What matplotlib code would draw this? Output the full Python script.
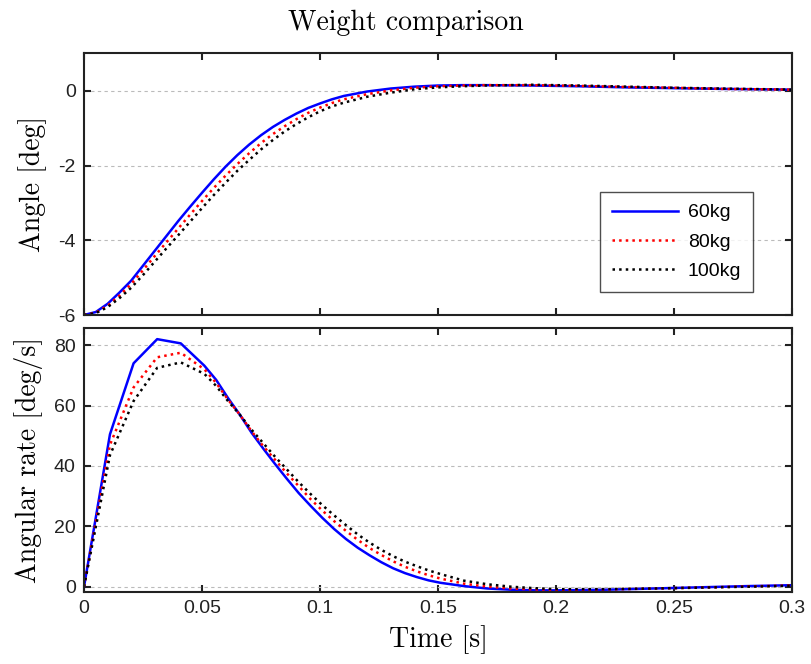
import matplotlib
matplotlib.use("Agg")
import matplotlib.pyplot as plt

# ---- data ----
labels = ["60kg", "80kg", "100kg"]

t_angle = [0, 0.005, 0.01, 0.015, 0.02, 0.025, 0.03, 0.035, 0.04, 0.045, 0.05,
           0.055, 0.06, 0.065, 0.07, 0.075, 0.08, 0.085, 0.09, 0.095, 0.10,
           0.105, 0.11, 0.12, 0.13, 0.14, 0.15, 0.16, 0.17, 0.19, 0.21, 0.23,
           0.25, 0.27, 0.30]
angle_60 = [-6, -5.92, -5.7, -5.4, -5.08, -4.68, -4.28, -3.88, -3.48, -3.1, -2.73,
            -2.37, -2.03, -1.72, -1.44, -1.19, -0.97, -0.78, -0.61, -0.46, -0.34,
            -0.23, -0.14, -0.02, 0.06, 0.11, 0.14, 0.15, 0.15, 0.14, 0.12, 0.09,
            0.07, 0.05, 0.03]
angle_80 = [-6, -5.94, -5.75, -5.48, -5.17, -4.8, -4.42, -4.05, -3.68, -3.31, -2.95,
            -2.6, -2.27, -1.96, -1.67, -1.4, -1.16, -0.95, -0.76, -0.59, -0.45,
            -0.33, -0.23, -0.09, 0.01, 0.08, 0.12, 0.14, 0.15, 0.15, 0.13, 0.10,
            0.08, 0.05, 0.03]
angle_100 = [-6, -5.95, -5.79, -5.55, -5.27, -4.93, -4.57, -4.21, -3.86, -3.5, -3.14,
             -2.79, -2.46, -2.14, -1.85, -1.57, -1.32, -1.09, -0.89, -0.71, -0.55,
             -0.42, -0.32, -0.16, -0.05, 0.04, 0.09, 0.12, 0.14, 0.16, 0.14, 0.11,
             0.08, 0.06, 0.03]

t_rate = [0, 0.011, 0.021, 0.031, 0.041, 0.051, 0.056, 0.061, 0.066, 0.071, 0.076,
          0.081, 0.086, 0.091, 0.096, 0.101, 0.106, 0.111, 0.116, 0.121, 0.126,
          0.131, 0.136, 0.141, 0.146, 0.151, 0.161, 0.171, 0.181, 0.191, 0.201,
          0.221, 0.241, 0.261, 0.281, 0.30]
rate_60 = [0, 50.5, 74, 82, 80.6, 73.2, 68.5, 62.5, 57, 51, 45.7, 40.6, 35.7, 31,
           26.8, 22.8, 19.1, 15.8, 12.9, 10.4, 8.1, 6.1, 4.5, 3.2, 2.1, 1.3, 0.2,
           -0.6, -1.0, -1.2, -1.2, -1.0, -0.6, -0.2, 0.2, 0.5]
rate_80 = [0, 47, 66, 76, 77.5, 72, 67.5, 62, 57, 51.5, 46.5, 42, 37.5, 33.3, 29,
           25.2, 21.7, 18.5, 15.5, 12.8, 10.5, 8.4, 6.6, 5.1, 3.8, 2.7, 1.0, 0, -0.6,
           -0.9, -1.0, -0.9, -0.6, -0.3, 0.1, 0.4]
rate_100 = [0, 43.6, 61.5, 72.5, 74.3, 70.5, 66.5, 61.5, 57, 52, 47.5, 43, 38.8,
            34.6, 30.7, 27, 23.6, 20.4, 17.3, 14.6, 12.2, 10.1, 8.3, 6.8, 5.4, 4.2,
            2.0, 0.8, 0, -0.5, -0.8, -0.8, -0.6, -0.3, 0.0, 0.3]

x_ticks = [0, 0.05, 0.1, 0.15, 0.2, 0.25, 0.3]
x_ticklabels = ["0", "0.05", "0.1", "0.15", "0.2", "0.25", "0.3"]
angle_ticks = [-6, -4, -2, 0]
rate_ticks = [0, 20, 40, 60, 80]

# ---- styling ----
colors = ["#0000ff", "#ff0000", "#000000"]
styles = ["-", ":", ":"]
serif = "cmr10"
tick_font = "Liberation Sans"

fig = plt.figure(figsize=(8.11, 6.64), dpi=100)
ax1 = fig.add_axes([0.1036, 0.5256, 0.873, 0.394])
ax2 = fig.add_axes([0.1036, 0.1089, 0.873, 0.3967])

for ax in (ax1, ax2):
    for s in ax.spines.values():
        s.set_linewidth(1.5)
        s.set_color("#222222")
    ax.tick_params(direction="in", length=5, width=1.5, top=True, right=True,
                   labelsize=14, pad=6, colors="#222222")
    ax.set_xlim(0, 0.3)
    ax.set_xticks(x_ticks)
    ax.yaxis.grid(True, linestyle=(0, (3, 3)), color="#bbbbbb", linewidth=0.8)
    ax.set_axisbelow(True)

for y, c, ls, lab in zip([angle_60, angle_80, angle_100], colors, styles, labels):
    ax1.plot(t_angle, y, color=c, linestyle=ls, linewidth=1.8, label=lab)
for y, c, ls in zip([rate_60, rate_80, rate_100], colors, styles):
    ax2.plot(t_rate, y, color=c, linestyle=ls, linewidth=1.8)

ax1.set_ylim(-6, 1)
ax1.set_yticks(angle_ticks)
ax1.set_yticklabels([str(v) for v in angle_ticks], fontfamily=tick_font)
ax1.set_xticklabels([])
ax2.set_ylim(-1.65, 85.6)
ax2.set_yticks(rate_ticks)
ax2.set_yticklabels([str(v) for v in rate_ticks], fontfamily=tick_font)
ax2.set_xticklabels(x_ticklabels, fontfamily=tick_font)

ax1.set_ylabel("Angle [deg]", fontfamily=serif, fontsize=20, labelpad=8)
ax2.set_ylabel("Angular rate [deg/s]", fontfamily=serif, fontsize=20, labelpad=8)
ax2.set_xlabel("Time [s]", fontfamily=serif, fontsize=20, labelpad=6)
fig.suptitle("Weight comparison", fontfamily=serif, fontsize=20, y=0.985)

leg = ax1.legend(loc="lower right", bbox_to_anchor=(0.945, 0.089), borderaxespad=0,
                 frameon=True, fancybox=False, edgecolor="#222222", handlelength=3.4,
                 prop={"family": tick_font, "size": 14}, borderpad=0.6,
                 labelspacing=0.6, handletextpad=0.5)
leg.get_frame().set_linewidth(1.0)

fig.savefig("out.png", dpi=100)
